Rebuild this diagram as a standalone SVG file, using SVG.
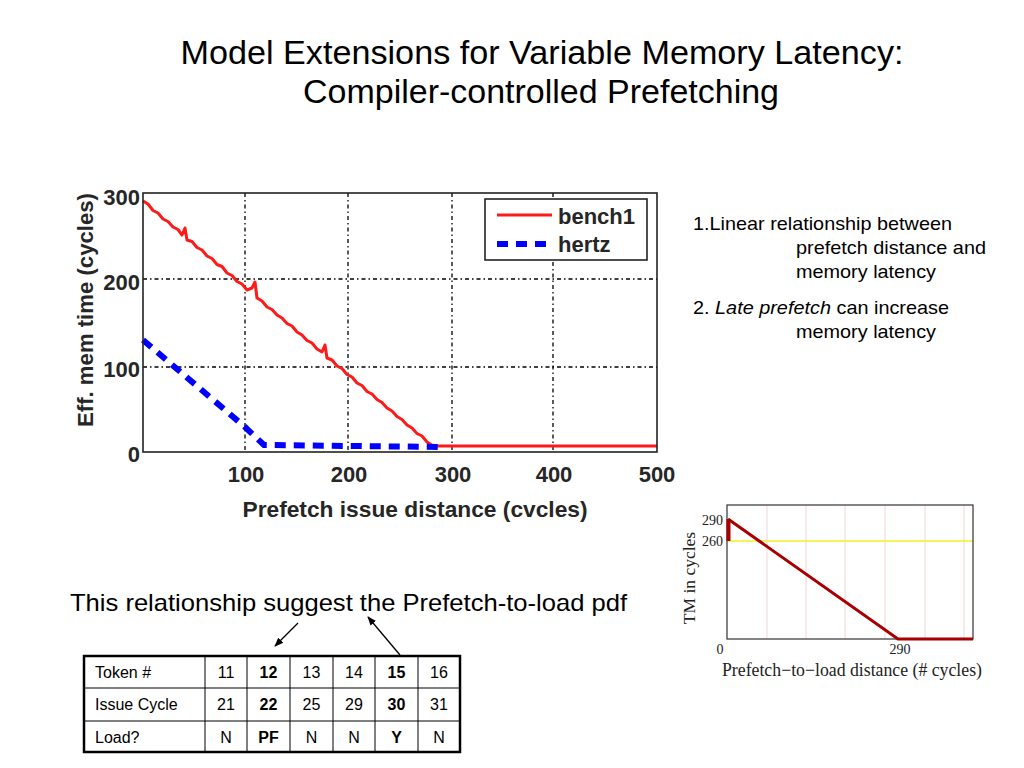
<svg xmlns="http://www.w3.org/2000/svg" width="1024" height="768" viewBox="0 0 1024 768">
<defs>
<style>
.sans{font-family:"Liberation Sans",Arial,sans-serif;}
.serif{font-family:"Liberation Serif","Times New Roman",serif;}
.title{font-size:33px;fill:#000;}
.body{font-size:19px;fill:#000;}
.tick{font-size:22px;font-weight:bold;fill:#262626;}
.grid{stroke:#000;stroke-width:1.3;stroke-dasharray:4 3 1.5 3;fill:none;}
.cell{font-size:16px;fill:#000;}
.b{font-weight:bold;}
.thin{stroke:#000;stroke-width:1;}
.pink{stroke:#f3d6d6;stroke-width:1;}
.stxt{font-size:14px;fill:#222;}
</style>
<marker id="ah" viewBox="0 0 10 10" refX="9" refY="5" markerWidth="7" markerHeight="7" orient="auto">
<path d="M0,1 L10,5 L0,9 Z" fill="#000"/>
</marker>
</defs>
<rect width="1024" height="768" fill="#fff"/>

<g id="title" class="sans title" text-anchor="middle">
<text x="542" y="64" textLength="723" lengthAdjust="spacingAndGlyphs">Model Extensions for Variable Memory Latency:</text>
<text x="541" y="103" textLength="476" lengthAdjust="spacingAndGlyphs">Compiler-controlled Prefetching</text>
</g>

<g id="main-chart">
<rect x="143" y="193" width="514" height="259" fill="#fff"/>
<g class="grid">
<line x1="245" y1="193" x2="245" y2="452"/>
<line x1="348" y1="193" x2="348" y2="452"/>
<line x1="452" y1="193" x2="452" y2="452"/>
<line x1="553" y1="193" x2="553" y2="452"/>
<line x1="143" y1="279" x2="657" y2="279"/>
<line x1="143" y1="367" x2="657" y2="367"/>
</g>
<polyline fill="none" stroke="#ff1a1a" stroke-width="3" stroke-linejoin="round" points="143,201 148,204 153,210.5 158,213 163,219 168,221.5 173,227 178,229.5 182,235 185,228 187,240 192,241.5 197,247.5 202,250 207,256 212,258.5 217,264.5 222,266.5 227,273 232,275.5 237,281.5 242,284 247,290 252,288 255,282 257,298 262,301 267,307 272,309.5 277,315 282,318 287,323.5 292,326 297,332 302,335 307,340.5 312,343 317,349 322,352 325,345 327,358 332,360 337,366 342,368.5 347,374.5 352,377 357,383 362,385.5 367,391.5 372,394 377,399.5 382,402.5 387,408 392,411 397,416.5 402,419.5 407,425 412,428 417,433.5 422,436 427,442 433,446 657,446"/>
<path d="M143,340 L245,427 L264,445 L441,447" fill="none" stroke="#0000ff" stroke-width="6" stroke-dasharray="11 8"/>
<rect x="143" y="193" width="514" height="259" fill="none" stroke="#222" stroke-width="1.6"/>
<g id="legend">
<rect x="485" y="199" width="162" height="61" fill="#fff" stroke="#222" stroke-width="1.6"/>
<line x1="497" y1="215" x2="552" y2="215" stroke="#ff1a1a" stroke-width="3"/>
<line x1="497" y1="244" x2="552" y2="244" stroke="#0000ff" stroke-width="6" stroke-dasharray="11 8"/>
<text x="558" y="224" class="sans tick">bench1</text>
<text x="558" y="252" class="sans tick">hertz</text>
</g>
<g class="sans tick" text-anchor="end">
<text x="140" y="205">300</text>
<text x="140" y="290">200</text>
<text x="140" y="377">100</text>
<text x="140" y="462">0</text>
</g>
<g class="sans tick" text-anchor="middle">
<text x="246" y="482">100</text>
<text x="349" y="482">200</text>
<text x="453" y="482">300</text>
<text x="554" y="482">400</text>
<text x="657" y="482">500</text>
</g>
<text x="415" y="517" class="sans tick" text-anchor="middle" textLength="345" lengthAdjust="spacingAndGlyphs">Prefetch issue distance (cvcles)</text>
<text transform="translate(93,310) rotate(-90)" class="sans tick" text-anchor="middle" textLength="234" lengthAdjust="spacingAndGlyphs">Eff. mem time (cycles)</text>
</g>

<g id="notes" class="sans body">
<text x="693" y="230" textLength="259" lengthAdjust="spacingAndGlyphs">1.Linear relationship between</text>
<text x="796" y="254" textLength="190" lengthAdjust="spacingAndGlyphs">prefetch distance and</text>
<text x="796" y="278" textLength="140" lengthAdjust="spacingAndGlyphs">memory latency</text>
<text x="693" y="314" textLength="256" lengthAdjust="spacingAndGlyphs">2. <tspan font-style="italic">Late prefetch</tspan> can increase</text>
<text x="796" y="338" textLength="140" lengthAdjust="spacingAndGlyphs">memory latency</text>
</g>

<g id="small-chart">
<rect x="727" y="505" width="246" height="134" fill="#fff"/>
<g class="pink">
<line x1="767" y1="505" x2="767" y2="639"/>
<line x1="806" y1="505" x2="806" y2="639"/>
<line x1="845" y1="505" x2="845" y2="639"/>
<line x1="885" y1="505" x2="885" y2="639"/>
<line x1="925" y1="505" x2="925" y2="639"/>
<line x1="964" y1="505" x2="964" y2="639"/>
</g>
<line x1="727" y1="541" x2="973" y2="541" stroke="#f5f020" stroke-width="1.3"/>
<rect x="727" y="505" width="246" height="134" fill="none" stroke="#333" stroke-width="1.2"/>
<line x1="728.5" y1="519" x2="728.5" y2="541" stroke="#a80000" stroke-width="4"/>
<polyline points="728,519 898,639 973,639" fill="none" stroke="#a80000" stroke-width="3"/>
<g class="serif stxt" text-anchor="end">
<text x="723" y="525">290</text>
<text x="723" y="546">260</text>
</g>
<text x="720" y="654" class="serif stxt" text-anchor="middle">0</text>
<text x="900" y="654" class="serif stxt" text-anchor="middle">290</text>
<text x="852" y="676" class="serif" font-size="18" fill="#222" text-anchor="middle" textLength="260" lengthAdjust="spacingAndGlyphs">Prefetch−to−load distance (# cycles)</text>
<text transform="translate(695,578) rotate(-90)" class="serif" font-size="17.5" fill="#222" text-anchor="middle">TM in cycles</text>
</g>

<g id="caption">
<text x="70" y="611" class="sans" font-size="24" fill="#000" textLength="557" lengthAdjust="spacingAndGlyphs">This relationship suggest the Prefetch-to-load pdf</text>
</g>

<g id="connectors">
<line x1="298" y1="623" x2="275" y2="646" stroke="#000" stroke-width="1.3" marker-end="url(#ah)"/>
<line x1="400" y1="655" x2="368" y2="617" stroke="#000" stroke-width="1.3" marker-end="url(#ah)"/>
</g>

<g id="table">
<g class="thin">
<line x1="84" y1="688" x2="460" y2="688"/>
<line x1="84" y1="721" x2="460" y2="721"/>
<line x1="205" y1="656" x2="205" y2="752"/>
<line x1="247" y1="656" x2="247" y2="752"/>
<line x1="290" y1="656" x2="290" y2="752"/>
<line x1="333" y1="656" x2="333" y2="752"/>
<line x1="375" y1="656" x2="375" y2="752"/>
<line x1="418" y1="656" x2="418" y2="752"/>
</g>
<rect x="84" y="656" width="376" height="96" fill="none" stroke="#000" stroke-width="2.5"/>
<g class="sans cell">
<text x="95" y="678">Token #</text>
<text x="95" y="710">Issue Cycle</text>
<text x="95" y="743">Load?</text>
</g>
<g class="sans cell" text-anchor="middle">
<text x="226" y="678">11</text>
<text x="268.5" y="678" class="b">12</text>
<text x="311.5" y="678">13</text>
<text x="354" y="678">14</text>
<text x="396.5" y="678" class="b">15</text>
<text x="439" y="678">16</text>
<text x="226" y="710">21</text>
<text x="268.5" y="710" class="b">22</text>
<text x="311.5" y="710">25</text>
<text x="354" y="710">29</text>
<text x="396.5" y="710" class="b">30</text>
<text x="439" y="710">31</text>
<text x="226" y="743">N</text>
<text x="268.5" y="743" class="b">PF</text>
<text x="311.5" y="743">N</text>
<text x="354" y="743">N</text>
<text x="396.5" y="743" class="b">Y</text>
<text x="439" y="743">N</text>
</g>
</g>
</svg>
